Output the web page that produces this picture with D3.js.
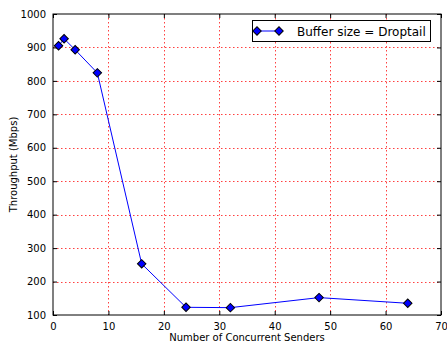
<!DOCTYPE html>
<html>
<head>
<meta charset="utf-8">
<script src="https://cdn.jsdelivr.net/npm/d3@7"></script>
<style>
  body { margin: 0; background: #fff; }
  svg { display: block; font-family: "DejaVu Sans", sans-serif; }
</style>
</head>
<body>
<div id="chart"></div>
<script>
// data
let senders = [1, 2, 4, 8, 16, 24, 32, 48, 64];
let throughput = [905, 926, 893, 824, 253, 123, 122, 152, 135];
let xTicks = [0, 10, 20, 30, 40, 50, 60, 70];
let yTicks = [100, 200, 300, 400, 500, 600, 700, 800, 900, 1000];
let seriesName = "Buffer size = Droptail";

let width = 447;
let height = 347;
let plotLeft = 53, plotRight = 441, plotTop = 14, plotBottom = 315;

let svg = d3.select("#chart").append("svg")
  .attr("width", width)
  .attr("height", height);

let x = d3.scaleLinear().domain([0, 70]).range([plotLeft, plotRight]);
let y = d3.scaleLinear().domain([100, 1000]).range([plotBottom, plotTop]);

// grid
let grid = svg.append("g").attr("class", "grid");
grid.selectAll("line.vgrid")
  .data(xTicks.slice(1, -1))
  .enter().append("line")
  .attr("x1", d => Math.round(x(d)) + 0.5)
  .attr("x2", d => Math.round(x(d)) + 0.5)
  .attr("y1", plotTop)
  .attr("y2", plotBottom);
grid.selectAll("line.hgrid")
  .data(yTicks.slice(1, -1))
  .enter().append("line")
  .attr("y1", d => Math.round(y(d)) + 0.5)
  .attr("y2", d => Math.round(y(d)) + 0.5)
  .attr("x1", plotLeft)
  .attr("x2", plotRight);
grid.selectAll("line")
  .attr("stroke", "#ff0000")
  .attr("stroke-opacity", 0.75)
  .attr("stroke-width", 1)
  .attr("stroke-dasharray", "1.5,2.5");

// axes with inward ticks on all sides
let fmt = d3.format("d");
let axisBottom = d3.axisBottom(x).tickValues(xTicks).tickFormat(fmt).tickSizeInner(-4).tickSizeOuter(0).tickPadding(8);
let axisTop = d3.axisTop(x).tickValues(xTicks).tickSizeInner(-4).tickSizeOuter(0).tickFormat("");
let axisLeft = d3.axisLeft(y).tickValues(yTicks).tickFormat(fmt).tickSizeInner(-4).tickSizeOuter(0).tickPadding(7);
let axisRight = d3.axisRight(y).tickValues(yTicks).tickSizeInner(-4).tickSizeOuter(0).tickFormat("");

svg.append("g").attr("transform", `translate(0,${plotBottom})`).call(axisBottom);
svg.append("g").attr("transform", `translate(0,${plotTop})`).call(axisTop);
svg.append("g").attr("transform", `translate(${plotLeft},0)`).call(axisLeft);
svg.append("g").attr("transform", `translate(${plotRight},0)`).call(axisRight);

svg.selectAll(".domain").remove();
svg.selectAll(".tick line").attr("stroke", "#000");
svg.selectAll(".tick text")
  .attr("font-family", "DejaVu Sans")
  .attr("font-size", 10)
  .attr("fill", "#000");

svg.append("rect")
  .attr("x", plotLeft)
  .attr("y", plotTop)
  .attr("width", plotRight - plotLeft)
  .attr("height", plotBottom - plotTop)
  .attr("fill", "none")
  .attr("stroke", "#000")
  .attr("stroke-width", 1);

// series
let line = d3.line()
  .x((d, i) => x(senders[i]))
  .y(d => y(d));

svg.append("path")
  .datum(throughput)
  .attr("d", line)
  .attr("fill", "none")
  .attr("stroke", "#0000ff")
  .attr("stroke-width", 1);

let diamond = d3.symbol().type(d3.symbolSquare).size(36);

svg.selectAll("path.marker")
  .data(throughput)
  .enter().append("path")
  .classed("marker", true)
  .attr("d", diamond)
  .attr("transform", (d, i) => `translate(${x(senders[i])},${y(d)}) rotate(45)`)
  .attr("fill", "#0000ff")
  .attr("stroke", "#000")
  .attr("stroke-width", 1);

// axis labels
svg.append("text")
  .attr("x", (plotLeft + plotRight) / 2)
  .attr("y", 341)
  .attr("text-anchor", "middle")
  .attr("font-size", 10)
  .text("Number of Concurrent Senders");

svg.append("text")
  .attr("transform", `translate(17,${(plotTop + plotBottom) / 2}) rotate(-90)`)
  .attr("text-anchor", "middle")
  .attr("font-size", 10)
  .text("Throughput (Mbps)");

// legend
let legend = svg.append("g").attr("class", "legend");
legend.append("rect")
  .attr("x", 252.5)
  .attr("y", 20.5)
  .attr("width", 178)
  .attr("height", 21)
  .attr("fill", "#fff")
  .attr("stroke", "#000")
  .attr("stroke-width", 1);
legend.append("line")
  .attr("x1", 257).attr("x2", 279)
  .attr("y1", 31).attr("y2", 31)
  .attr("stroke", "#0000ff")
  .attr("stroke-width", 1);
legend.selectAll("path.legend-marker")
  .data([257, 279])
  .enter().append("path")
  .classed("legend-marker", true)
  .attr("d", diamond)
  .attr("transform", d => `translate(${d},31) rotate(45)`)
  .attr("fill", "#0000ff")
  .attr("stroke", "#000")
  .attr("stroke-width", 1);
legend.append("text")
  .attr("x", 297)
  .attr("y", 35.5)
  .attr("font-size", 12)
  .text(seriesName);
</script>
</body>
</html>
